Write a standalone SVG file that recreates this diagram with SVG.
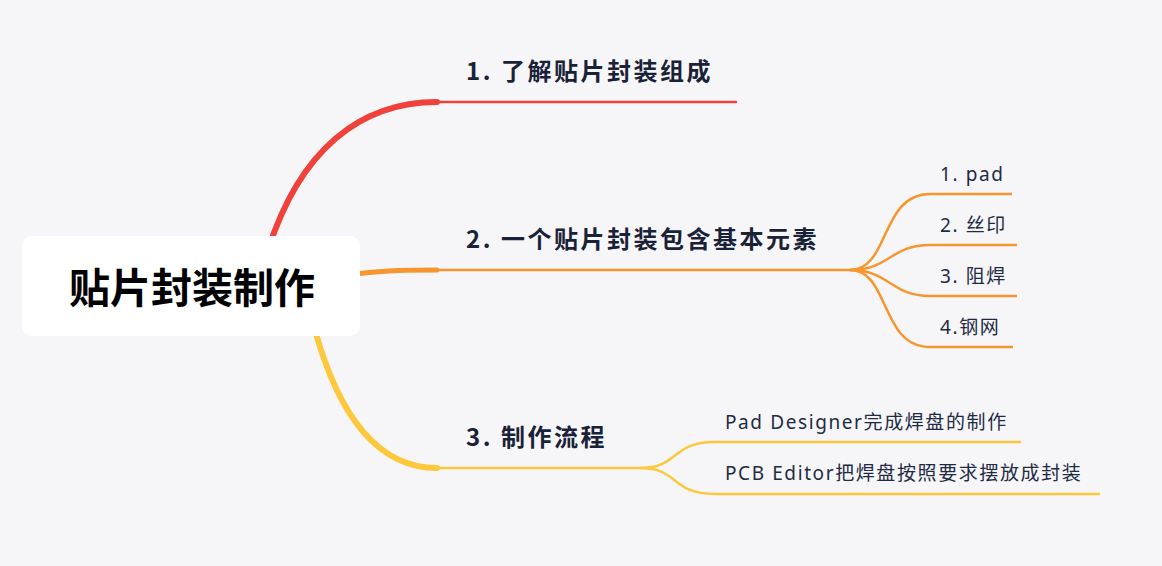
<svg xmlns="http://www.w3.org/2000/svg" width="1162" height="566" viewBox="0 0 1162 566">
<style>
.t1{font-family:"Noto Sans CJK SC","Noto Sans",sans-serif;font-weight:700;font-size:24px;letter-spacing:2.5px;fill:#1a2238}
.t2{font-family:"Noto Sans","Noto Sans CJK SC",sans-serif;font-size:19px;letter-spacing:1.6px;fill:#1f2a44}
.b{fill:none;stroke-linecap:round}
</style>
<rect width="1162" height="566" fill="#f6f6f8"/>
<g id="connectors">
<path class="b" d="M268 250 C300 150 360 102 437 102" stroke="#f0413a" stroke-width="6"/>
<path class="b" d="M437 102 L736 102" stroke="#f0413a" stroke-width="2.5"/>
<path class="b" d="M355 274 C390 270 410 270 437 270" stroke="#f7952f" stroke-width="5"/>
<path class="b" d="M437 270 L850 270" stroke="#f7952f" stroke-width="2.5"/>
<path class="b" d="M315 330 C340 420 380 468 437 468" stroke="#fdc83b" stroke-width="6"/>
<path class="b" d="M437 468 L640 468" stroke="#fdc83b" stroke-width="2.5"/>
<g stroke="#f7952f" stroke-width="2.5" fill="none">
<path d="M850 270 C890 270 880 194 930 194 L1012 194"/>
<path d="M850 270 C890 270 890 245 930 245 L1017 245"/>
<path d="M850 270 C890 270 890 296 930 296 L1017 296"/>
<path d="M850 270 C890 270 880 347 930 347 L1013 347"/>
</g>
<g stroke="#fdc83b" stroke-width="2.5" fill="none">
<path d="M640 468 C680 468 670 442 715 442 L1021 442"/>
<path d="M640 468 C680 468 670 494 715 494 L1100 494"/>
</g>
</g>
<g id="root">
<rect x="22" y="236" width="338" height="100" rx="10" fill="#ffffff"/>
<text x="192" y="303" text-anchor="middle" font-family="Noto Sans CJK SC,sans-serif" font-weight="700" font-size="41" fill="#000">贴片封装制作</text>
</g>
<g id="n1"><text class="t1" x="466" y="80">1. 了解贴片封装组成</text></g>
<g id="n2"><text class="t1" x="466" y="248">2. 一个贴片封装包含基本元素</text></g>
<g id="n3"><text class="t1" x="466" y="446">3. 制作流程</text></g>
<g id="n21"><text class="t2" x="940" y="181">1. pad</text></g>
<g id="n22"><text class="t2" x="940" y="232">2. 丝印</text></g>
<g id="n23"><text class="t2" x="940" y="283">3. 阻焊</text></g>
<g id="n24"><text class="t2" x="940" y="334">4.钢网</text></g>
<g id="n31"><text class="t2" x="725" y="429">Pad Designer完成焊盘的制作</text></g>
<g id="n32"><text class="t2" x="725" y="480">PCB Editor把焊盘按照要求摆放成封装</text></g>
</svg>
